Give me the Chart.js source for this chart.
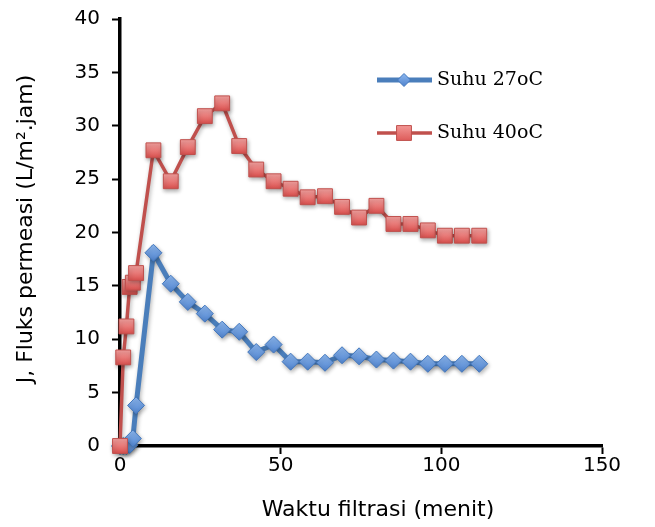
<!DOCTYPE html>
<html lang="id">
<head>
<meta charset="UTF-8">
<title>Fluks permeasi</title>
<script src="https://cdn.jsdelivr.net/npm/chart.js"></script>
<style>
  html, body { margin: 0; padding: 0; background: #fff; }
  #wrap { width: 655px; height: 527px; }
</style>
</head>
<body>
<div id="wrap"><canvas id="fluxChart"></canvas></div>
<script>
  // data
  const waktu  = [0, 1, 2, 3, 4, 5, 10.4, 15.8, 21.1, 26.4, 31.8, 37.1, 42.4, 47.8, 53.1, 58.4, 63.8, 69.1, 74.4, 79.8, 85.1, 90.4, 95.8, 101.1, 106.4, 111.8];
  const suhu27 = [0, 0, 0, 0.1, 0.7, 3.8, 18.1, 15.2, 13.5, 12.4, 10.9, 10.7, 8.8, 9.5, 7.9, 7.9, 7.8, 8.5, 8.4, 8.1, 8.0, 7.9, 7.7, 7.7, 7.7, 7.7];
  const suhu40 = [0, 8.3, 11.2, 14.9, 15.3, 16.2, 27.7, 24.8, 28.0, 30.9, 32.1, 28.1, 25.9, 24.8, 24.1, 23.3, 23.4, 22.4, 21.4, 22.5, 20.8, 20.8, 20.2, 19.7, 19.7, 19.7];
  const seriesNames = ['Suhu 27oC', 'Suhu 40oC'];
  const xTicks = [0, 50, 100, 150];
  const yTicks = [0, 5, 10, 15, 20, 25, 30, 35, 40];
  const xTitle = 'Waktu filtrasi (menit)';
  const yTitle = 'J, Fluks permeasi (L/m\u00B2.jam)';

  const BLUE = '#4a7ebb', RED = '#c0504d';

  function toPoints(ys) {
    return waktu.map((t, i) => ({ x: t, y: ys[i] }));
  }

  // vertical gradient per marker, like the Excel fill
  function markerFill(top, bottom, r) {
    return ctx => {
      if (ctx.type !== 'data' || !ctx.parsed) return bottom;
      const py = ctx.chart.scales.y.getPixelForValue(ctx.parsed.y);
      if (!isFinite(py)) return bottom;
      const g = ctx.chart.ctx.createLinearGradient(0, py - r, 0, py + r);
      g.addColorStop(0, top);
      g.addColorStop(1, bottom);
      return g;
    };
  }

  const extras = {
    id: 'extras',
    beforeDatasetsDraw(chart) {
      const c = chart.ctx;
      c.save();
      c.shadowColor = 'rgba(0,0,0,0.3)';
      c.shadowBlur = 4;
      c.shadowOffsetX = 1;
      c.shadowOffsetY = 2;
    },
    afterDatasetsDraw(chart) {
      chart.ctx.restore();
    },
    afterDraw(chart) {
      const c = chart.ctx;
      c.save();
      c.fillStyle = '#000';
      c.font = '22px "DejaVu Sans"';
      c.textAlign = 'center';
      c.textBaseline = 'middle';
      c.fillText(xTitle, 378, 510);
      c.save();
      c.translate(26, 229);
      c.rotate(-Math.PI / 2);
      c.fillText(yTitle, 0, 0);
      c.restore();

      // legend inside the plot
      const rows = [
        { ds: chart.data.datasets[1], y: 80, r: 6.5, top: '#8db8f0', bottom: '#4f82cc' },
        { ds: chart.data.datasets[0], y: 133, r: 10.5, top: '#f7a3a1', bottom: '#d9504e' }
      ];
      rows.forEach(row => {
        const ds = row.ds;
        c.strokeStyle = ds.borderColor;
        c.lineWidth = ds.borderWidth;
        c.beginPath();
        c.moveTo(377, row.y);
        c.lineTo(432, row.y);
        c.stroke();
        const g = c.createLinearGradient(0, row.y - row.r, 0, row.y + row.r);
        g.addColorStop(0, row.top);
        g.addColorStop(1, row.bottom);
        c.fillStyle = g;
        c.strokeStyle = ds.pointBorderColor;
        c.lineWidth = 1;
        Chart.helpers.drawPoint(c, { pointStyle: ds.pointStyle, radius: row.r, borderWidth: 1, rotation: 0 }, 404, row.y);
        c.fillStyle = '#000';
        c.font = '19px "DejaVu Serif"';
        c.textAlign = 'left';
        c.fillText(ds.label, 437, row.y);
      });
      c.restore();
    }
  };

  const axisFont = { family: 'DejaVu Sans', size: 20 };

  new Chart(document.getElementById('fluxChart'), {
    type: 'scatter',
    data: {
      datasets: [
        {
          label: seriesNames[1],
          data: toPoints(suhu40),
          showLine: true,
          borderColor: RED,
          borderWidth: 3.5,
          pointStyle: 'rect',
          pointRadius: 10.5,
          pointBorderWidth: 1,
          pointBorderColor: '#c0504d',
          pointBackgroundColor: markerFill('#f7a3a1', '#d9504e', 7.5),
          clip: false,
          order: 0
        },
        {
          label: seriesNames[0],
          data: toPoints(suhu27),
          showLine: true,
          borderColor: BLUE,
          borderWidth: 5,
          pointStyle: 'rectRot',
          pointRadius: 8.5,
          pointBorderWidth: 1,
          pointBorderColor: '#4277bd',
          pointBackgroundColor: markerFill('#8db8f0', '#4f82cc', 8.5),
          clip: false,
          order: 1
        }
      ]
    },
    options: {
      responsive: true,
      maintainAspectRatio: false,
      animation: false,
      devicePixelRatio: 1,
      layout: { padding: { top: 19, right: 53, left: 0, bottom: 0 } },
      plugins: {
        legend: { display: false },
        tooltip: { enabled: false }
      },
      scales: {
        x: {
          type: 'linear',
          min: 0,
          max: 150,
          afterBuildTicks: s => { s.ticks = xTicks.map(v => ({ value: v })); },
          afterFit: s => { s.height = 81; s.paddingLeft = 0; s.paddingRight = 0; },
          border: { display: true, color: '#000', width: 3.5 },
          grid: { drawOnChartArea: false, drawTicks: true, tickLength: 8, tickColor: '#000', tickWidth: 2 },
          ticks: { color: '#000', font: axisFont, padding: 0, maxRotation: 0 }
        },
        y: {
          type: 'linear',
          min: 0,
          max: 40,
          afterBuildTicks: s => { s.ticks = yTicks.map(v => ({ value: v })); },
          afterFit: s => { s.width = 120; s.paddingTop = 0; s.paddingBottom = 0; },
          border: { display: true, color: '#000', width: 3.5 },
          grid: { drawOnChartArea: false, drawTicks: true, tickLength: 8, tickColor: '#000', tickWidth: 2 },
          ticks: { color: '#000', font: axisFont, padding: 12 }
        }
      }
    },
    plugins: [extras]
  });
</script>
</body>
</html>
